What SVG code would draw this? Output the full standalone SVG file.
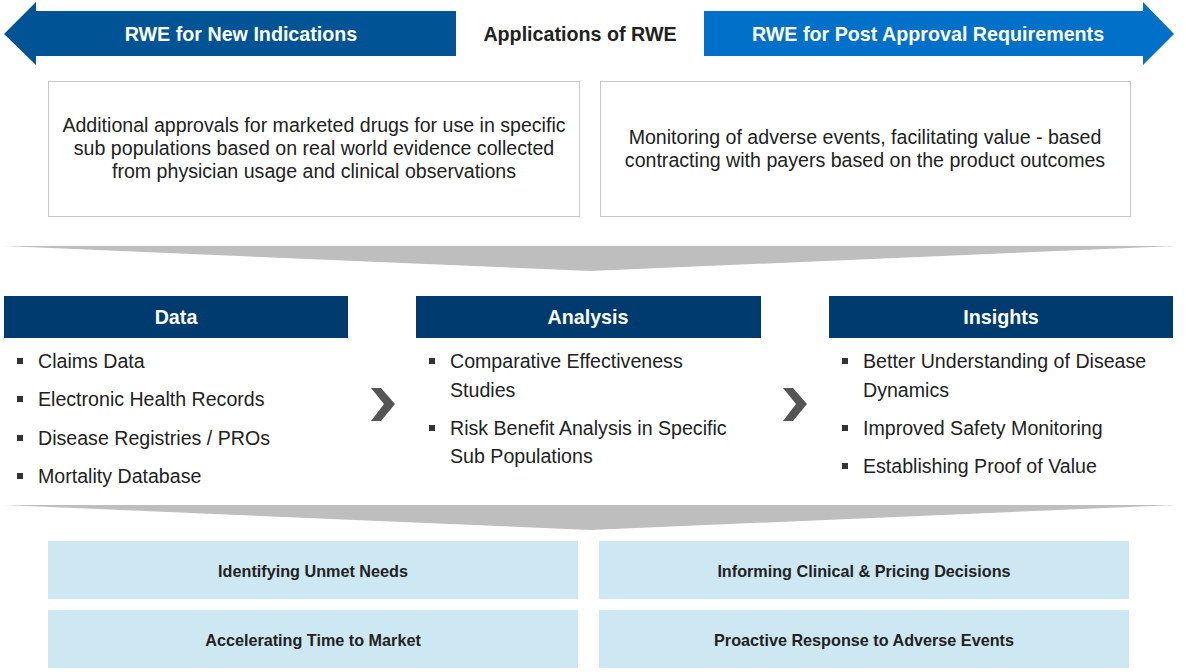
<svg xmlns="http://www.w3.org/2000/svg" width="1186" height="672" viewBox="0 0 1186 672">
<style>
.hdr{font-family:"Liberation Sans",Arial,sans-serif;font-weight:bold;font-size:19.7px;fill:#fff;text-anchor:middle}
.body{font-family:"Liberation Sans",Arial,sans-serif;font-size:19.6px;fill:#222;text-anchor:middle}
.item{font-family:"Liberation Sans",Arial,sans-serif;font-size:19.6px;fill:#222}
.bul{fill:#333}
.bar{fill:#003b6f}
.box{fill:#fff;stroke:#c8c8c8;stroke-width:1}
.ob{fill:#cee8f3}
.obt{font-family:"Liberation Sans",Arial,sans-serif;font-weight:bold;font-size:16.2px;fill:#222;text-anchor:middle}
.chev{fill:#bebebe}
.nx{fill:#555}
</style>
<rect width="1186" height="672" fill="#fff"/>
<g id="arrow-left">
<polygon points="4,34 36,2 36,11 456,11 456,56 36,56 36,65" fill="#005496"/>
<text class="hdr" x="241" y="41">RWE for New Indications</text>
</g>
<g id="title"><text x="580" y="41" font-family="'Liberation Sans',Arial,sans-serif" font-weight="bold" font-size="19.7" fill="#222" text-anchor="middle">Applications of RWE</text></g>
<g id="arrow-right">
<polygon points="704,11 1143,11 1143,2 1174,34 1143,65 1143,56 704,56" fill="#0070c8"/>
<text class="hdr" x="928" y="41">RWE for Post Approval Requirements</text>
</g>
<g id="box-new">
<rect class="box" x="48.5" y="81.5" width="531" height="135"/>
<text class="body" x="314" y="132">Additional approvals for marketed drugs for use in specific</text>
<text class="body" x="314" y="155">sub populations based on real world evidence collected</text>
<text class="body" x="314" y="178">from physician usage and clinical observations</text>
</g>
<g id="box-post">
<rect class="box" x="600.5" y="81.5" width="530" height="135"/>
<text class="body" x="865" y="144">Monitoring of adverse events, facilitating value - based</text>
<text class="body" x="865" y="167">contracting with payers based on the product outcomes</text>
</g>
<g id="funnel-top"><polygon class="chev" points="4,246 1176,246 590,271"/></g>
<g id="data">
<rect class="bar" x="4" y="296" width="344" height="42"/>
<text class="hdr" x="176" y="324">Data</text>
<rect class="bul" x="17" y="358" width="6" height="6"/>
<text class="item" x="38" y="368">Claims Data</text>
<rect class="bul" x="17" y="396" width="6" height="6"/>
<text class="item" x="38" y="406">Electronic Health Records</text>
<rect class="bul" x="17" y="435" width="6" height="6"/>
<text class="item" x="38" y="445">Disease Registries / PROs</text>
<rect class="bul" x="17" y="473" width="6" height="6"/>
<text class="item" x="38" y="483">Mortality Database</text>
</g>
<g id="analysis">
<rect class="bar" x="416" y="296" width="345" height="42"/>
<text class="hdr" x="588" y="324">Analysis</text>
<rect class="bul" x="429" y="358" width="6" height="6"/>
<text class="item" x="450" y="368">Comparative Effectiveness</text>
<text class="item" x="450" y="397">Studies</text>
<rect class="bul" x="429" y="425" width="6" height="6"/>
<text class="item" x="450" y="435">Risk Benefit Analysis in Specific</text>
<text class="item" x="450" y="463">Sub Populations</text>
</g>
<g id="insights">
<rect class="bar" x="829" y="296" width="344" height="42"/>
<text class="hdr" x="1001" y="324">Insights</text>
<rect class="bul" x="842" y="358" width="6" height="6"/>
<text class="item" x="863" y="368">Better Understanding of Disease</text>
<text class="item" x="863" y="397">Dynamics</text>
<rect class="bul" x="842" y="425" width="6" height="6"/>
<text class="item" x="863" y="435">Improved Safety Monitoring</text>
<rect class="bul" x="842" y="463" width="6" height="6"/>
<text class="item" x="863" y="473">Establishing Proof of Value</text>
</g>
<g id="connectors">
<polygon class="nx" points="371,388 381,388 395,404 381,421 371,421 384,404"/>
<polygon class="nx" points="783,388 793,388 807,404 793,421 783,421 796,404"/>
</g>
<g id="funnel-bottom"><polygon class="chev" points="4,505 1176,505 590,530"/></g>
<g id="out-1"><rect class="ob" x="48" y="541" width="530" height="58"/><text class="obt" x="313" y="577">Identifying Unmet Needs</text></g>
<g id="out-2"><rect class="ob" x="599" y="541" width="530" height="58"/><text class="obt" x="864" y="577">Informing Clinical &amp; Pricing Decisions</text></g>
<g id="out-3"><rect class="ob" x="48" y="610" width="530" height="58"/><text class="obt" x="313" y="646">Accelerating Time to Market</text></g>
<g id="out-4"><rect class="ob" x="599" y="610" width="530" height="58"/><text class="obt" x="864" y="646">Proactive Response to Adverse Events</text></g>
</svg>
